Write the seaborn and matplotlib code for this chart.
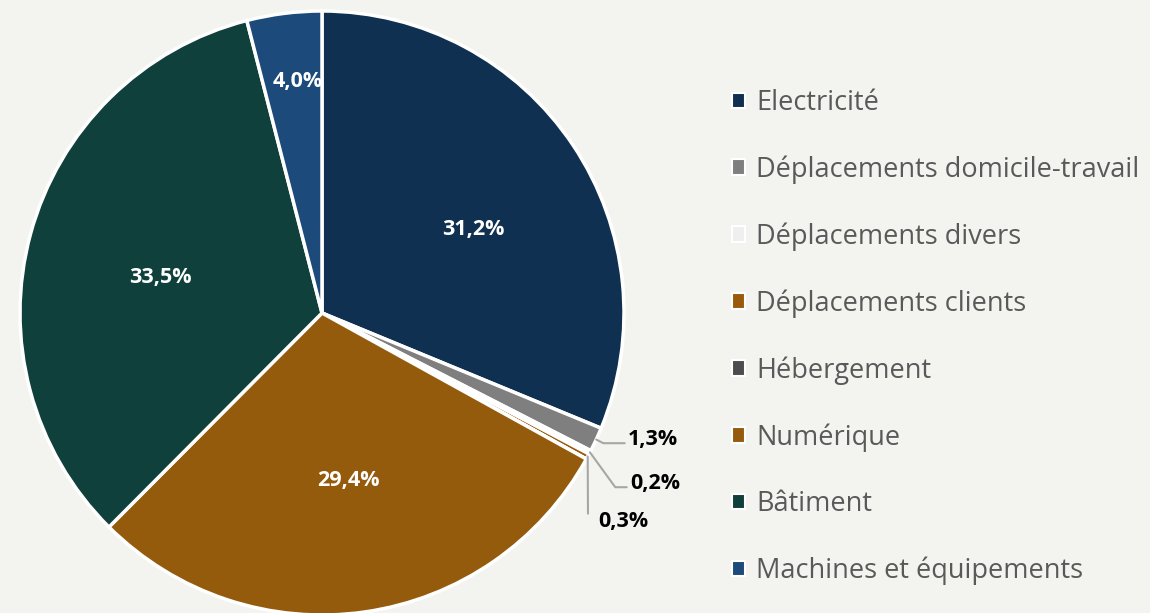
import seaborn as sns
import matplotlib.pyplot as plt
from matplotlib.patches import Patch
import numpy as np

# données (en %)
categories = ['Electricité', 'Déplacements domicile-travail', 'Déplacements divers',
              'Déplacements clients', 'Hébergement', 'Numérique', 'Bâtiment',
              'Machines et équipements']
valeurs = [31.2, 1.3, 0.2, 0.3, 0.0, 29.4, 33.5, 4.0]
etiquettes = ['31,2%', '1,3%', '0,2%', '0,3%', '', '29,4%', '33,5%', '4,0%']
couleurs = ['#0f3050', '#7f7f7f', '#efefef', '#9a5a0c', '#4d4d4d',
            '#955b0d', '#0f403b', '#1b4a7b']

fond = '#f3f4f0'
sns.set_theme(style='white', rc={'figure.facecolor': fond, 'axes.facecolor': fond})
plt.rcParams['font.family'] = ['Open Sans', 'DejaVu Sans']

fig = plt.figure(figsize=(11.5, 6.13), dpi=100)
W, H = 1150, 613
cx, cy, R = 322, 313, 302
half = 330
ax = fig.add_axes([(cx - half) / W, (H - cy - half) / H, 2 * half / W, 2 * half / H])

wedges, _ = ax.pie(valeurs, colors=couleurs, startangle=90, counterclock=False,
                   radius=1, wedgeprops=dict(edgecolor='white', linewidth=2.5))
ax.set_xlim(-half / R, half / R)
ax.set_ylim(-half / R, half / R)
ax.set_aspect('equal')
ax.axis('off')

# étiquettes internes (blanches) : rayon et petit décalage angulaire
interne = {0: (0.571, -5.0), 5: (0.563, 0.8), 6: (0.548, 3.0), 7: (0.769, -1.3)}
for i, (r, da) in interne.items():
    w = wedges[i]
    a = np.deg2rad((w.theta1 + w.theta2) / 2 + da)
    ax.text(r * np.cos(a), r * np.sin(a), etiquettes[i], color='white',
            fontsize=15.5, fontweight='bold', ha='center', va='center')

# étiquettes externes avec lignes de rappel
externe = {
    1: ((628 - cx) / R, (cy - 439) / R, 'angle,angleA=0,angleB=-27', (0, 0.3)),
    2: ((630 - cx) / R, (cy - 483) / R, 'angle,angleA=0,angleB=-54', (0, 0.3)),
    3: ((598 - cx) / R, (cy - 521) / R, 'arc3', (-0.2, 0.85)),
}
for i, (tx, ty, cs, rp) in externe.items():
    w = wedges[i]
    a = np.deg2rad((w.theta1 + w.theta2) / 2)
    ax.annotate(etiquettes[i], xy=(np.cos(a), np.sin(a)), xytext=(tx, ty),
                ha='left', va='center', fontsize=15.5, fontweight='bold', color='black',
                arrowprops=dict(arrowstyle='-', color='#a6a6a6', lw=1.5,
                                connectionstyle=cs, relpos=rp,
                                shrinkA=0, shrinkB=0))

# légende
poignees = [Patch(facecolor=c, edgecolor='white', linewidth=1.5) for c in couleurs]
fig.legend(poignees, categories, loc='upper left', bbox_to_anchor=(721 / W, 1 - 78 / H),
           frameon=False, fontsize=19.5, labelcolor='#595959', handlelength=0.5,
           handleheight=0.5, handletextpad=0.4, labelspacing=1.42, borderaxespad=0)

plt.savefig('out.png', dpi=100, facecolor=fond)
